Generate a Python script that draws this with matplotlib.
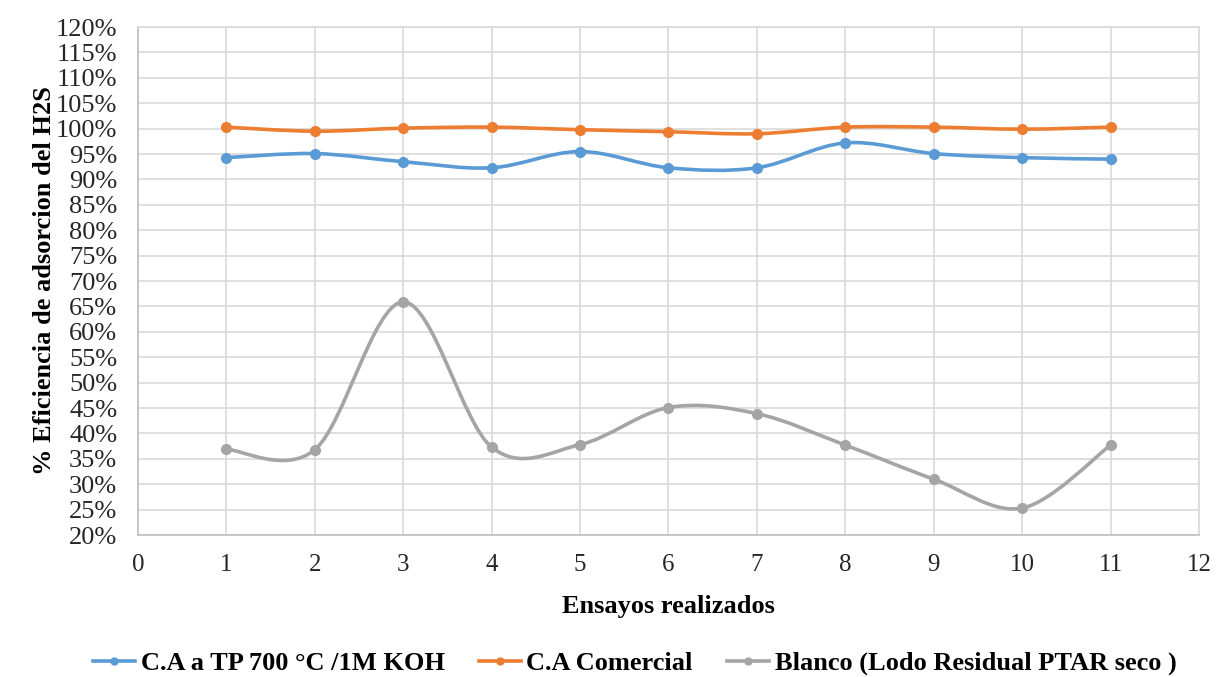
import matplotlib
matplotlib.use("Agg")
import matplotlib.pyplot as plt
from matplotlib.path import Path
from matplotlib.patches import PathPatch
from matplotlib.lines import Line2D
from matplotlib.ticker import MultipleLocator, FuncFormatter

# data (percent)
ensayos = [1, 2, 3, 4, 5, 6, 7, 8, 9, 10, 11]
ca_koh = [94.3, 95.1, 93.5, 92.3, 95.5, 92.3, 92.3, 97.2, 95.1, 94.3, 94.0]
ca_comercial = [100.3, 99.5, 100.1, 100.3, 99.8, 99.4, 99.0, 100.3, 100.3, 99.9, 100.3]
blanco = [36.9, 36.8, 65.9, 37.3, 37.8, 45.1, 43.9, 37.7, 31.0, 25.3, 37.7]

labels = ["C.A a TP 700 °C /1M KOH", "C.A Comercial", "Blanco (Lodo Residual PTAR seco )"]
colors = ["#5b9bd5", "#ed7d31", "#a5a5a5"]

plt.rcParams['font.family'] = ['Liberation Serif', 'DejaVu Serif']


def smooth_path(xs, ys):
    # excel-style smoothed line: cubic bezier with catmull-rom control points
    verts = [(xs[0], ys[0])]
    codes = [Path.MOVETO]
    n = len(xs)
    for i in range(n - 1):
        x0, y0 = xs[max(i - 1, 0)], ys[max(i - 1, 0)]
        x1, y1 = xs[i], ys[i]
        x2, y2 = xs[i + 1], ys[i + 1]
        x3, y3 = xs[min(i + 2, n - 1)], ys[min(i + 2, n - 1)]
        c1 = (x1 + (x2 - x0) / 6, y1 + (y2 - y0) / 6)
        c2 = (x2 - (x3 - x1) / 6, y2 - (y3 - y1) / 6)
        verts += [c1, c2, (x2, y2)]
        codes += [Path.CURVE4] * 3
    return Path(verts, codes)


fig = plt.figure(figsize=(12.16, 6.77), dpi=100)
ax = fig.add_axes([0.1135, 0.2097, 0.8725, 0.7503])

handles = []
for ys, col, lab in zip([ca_koh, ca_comercial, blanco], colors, labels):
    patch = PathPatch(smooth_path(ensayos, ys), facecolor="none", edgecolor=col, lw=2.6, zorder=3)
    ax.add_patch(patch)
    ax.plot(ensayos, ys, linestyle="none", marker="o", markersize=7, color=col, zorder=4)
    handles.append(Line2D([], [], color=col, lw=2.6, marker="o", markersize=5))

ax.set_xlim(0, 12)
ax.set_ylim(20, 120)
ax.xaxis.set_major_locator(MultipleLocator(1))
ax.yaxis.set_major_locator(MultipleLocator(5))
ax.yaxis.set_major_formatter(FuncFormatter(lambda v, p: f"{v:.0f}%"))
ax.grid(True, color="#d9d9d9", lw=1.2)
ax.set_axisbelow(True)
for s in ax.spines.values():
    s.set_color("#d9d9d9")
    s.set_linewidth(1.2)
ax.spines["left"].set_color("#bfbfbf")
ax.spines["bottom"].set_color("#bfbfbf")
ax.tick_params(length=0, colors="#262626")
ax.tick_params(axis="y", pad=15, labelsize=19)
ax.tick_params(axis="x", pad=14, labelsize=18)

ax.set_xlabel("Ensayos realizados", fontsize=19, fontweight="bold", labelpad=13)
ax.set_ylabel("% Eficiencia de adsorcion del H2S", fontsize=19, fontweight="bold", labelpad=0)

fig.legend(handles, labels, loc="center", bbox_to_anchor=(0.522, 0.02), ncol=3, frameon=False,
           prop={"size": 19, "weight": "bold"}, handlelength=1.6, columnspacing=1.3, handletextpad=0.2)

fig.savefig("out.png", dpi=100)
